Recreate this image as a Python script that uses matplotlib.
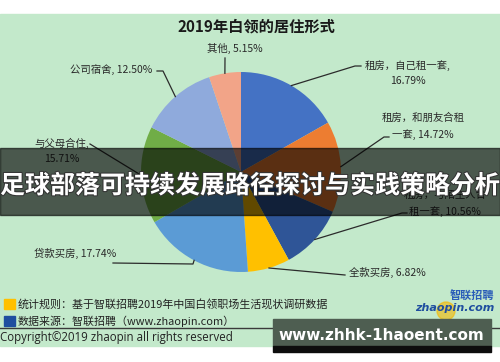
import numpy as np
import matplotlib.pyplot as plt
from matplotlib.patches import Rectangle, Circle
import matplotlib.patheffects as pe

plt.rcParams['font.family'] = ['Noto Sans CJK SC', 'DejaVu Sans']

# data (clockwise from 12 o'clock)
names = ['租房，自己租一套', '租房，和朋友合租一套', '租房，与陌生人合租一套', '全款买房',
         '贷款买房', '与父母合住', '公司宿舍', '其他']
shares = [16.79, 14.72, 10.56, 6.82, 17.74, 15.71, 12.50, 5.15]
labels = ['租房，自己租一套,\n16.79%', '租房，和朋友合租\n一套, 14.72%', '租房，与陌生人合\n租一套, 10.56%',
          '全款买房, 6.82%', '贷款买房, 17.74%', '与父母合住,\n15.71%', '公司宿舍, 12.50%', '其他, 5.15%']
colors = ['#4472C4', '#ED7D31', '#2F5597', '#FFC000', '#5B9BD5', '#70AD47', '#8FAADC', '#F2A488']

# layout (pixel coords, y down)
cx, cy, R = 241, 172, 100
label_pos = [(408, 73, 'center'), (423, 126, 'center'), (445, 203, 'center'), (387, 272, 'center'),
             (75, 253, 'center'), (62, 151, 'center'), (111, 70, 'center'), (235, 48, 'center')]
elbows = [[(355, 66), (361, 66)], [(384, 137), (389, 137)], [(402, 213), (407, 213)], [(345, 275)],
          [(193, 264), (113, 263)], [(90, 144)], [(163, 71), (157, 71)], [(225, 58)]]

fig = plt.figure(figsize=(5, 3.62), dpi=100)
ax = fig.add_axes([0, 0, 1, 1])

ax.add_patch(Rectangle((0, 14), 500, 332, color='#C3E9CB', zorder=0))

# y axis is inverted, so counterclock in data = clockwise on screen
wedges, _ = ax.pie(shares, colors=colors, center=(cx, cy), radius=R,
                   startangle=-90, counterclock=True, frame=True)
ax.set_xlim(0, 500)
ax.set_ylim(362, 0)
ax.set_aspect('equal')
ax.axis('off')

for w, lab, (lx, ly, ha), el in zip(wedges, labels, label_pos, elbows):
    mid = np.deg2rad((w.theta1 + w.theta2) / 2)
    px, py = cx + R * np.cos(mid), cy + R * np.sin(mid)
    xs = [px] + [p[0] for p in el]
    ys = [py] + [p[1] for p in el]
    ax.plot(xs, ys, color='#2b2b2b', lw=0.9, zorder=3)
    ax.text(lx, ly, lab, ha=ha, va='center', fontsize=7.5, color='#2a2a2a',
            linespacing=1.7, zorder=3)

ax.text(256, 27, '2019年白领的居住形式', ha='center', va='center', fontsize=11,
        fontweight='bold', color='#1a1a1a')

# footer
ax.add_patch(Rectangle((4, 299), 11, 10, color='#FFC000'))
ax.add_patch(Rectangle((4, 316), 11, 10, color='#1F4E9F'))
ax.text(18, 304, '统计规则：基于智联招聘2019年中国白领职场生活现状调研数据', va='center',
        fontsize=7.9, color='#222222')
ax.text(18, 321, '数据来源：智联招聘（www.zhaopin.com）', va='center', fontsize=7.9, color='#222222')
ax.plot([0, 500], [328, 328], color='#3a3a3a', lw=1)
ax.text(0, 338, 'Copyright©2019 zhaopin all rights reserved', va='center', fontsize=8.3,
        color='#222222', family=['Open Sans', 'DejaVu Sans'])

ax.add_patch(Circle((446, 311), 9, color='#F5B800', alpha=0.6, zorder=2))
ax.text(494, 296, '智联招聘', ha='right', va='center', fontsize=8, style='italic',
        fontweight='bold', color='#2A5CB8', zorder=3)
ax.text(494, 308, 'zhaopin.com', ha='right', va='center', fontsize=8, style='italic',
        fontweight='bold', color='#1F4E9F', family='DejaVu Sans', zorder=3)

# overlay banner
ax.add_patch(Rectangle((0, 148), 500, 67, color='black', alpha=0.62, zorder=5))
ax.text(250, 186, '足球部落可持续发展路径探讨与实践策略分析', ha='center', va='center',
        fontsize=18, fontweight='bold', color='white', zorder=6,
        path_effects=[pe.withStroke(linewidth=1.5, foreground='#333333')])

# watermark
ax.add_patch(Rectangle((273, 319), 218, 27, color='#4E5E51', zorder=5))
ax.add_patch(Rectangle((273, 346), 218, 6, color='#0d0d0d', zorder=5))
ax.text(381, 336, 'www.zhhk-1haoent.com', ha='center', va='center', fontsize=11,
        fontweight='bold', color='white', family='DejaVu Sans', zorder=6)

fig.savefig('out.png', dpi=100)
